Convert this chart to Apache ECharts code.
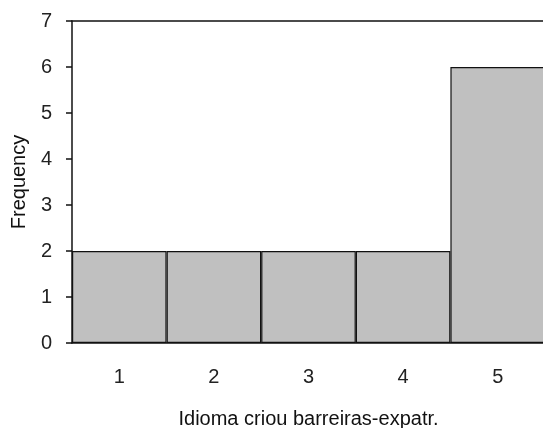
<!DOCTYPE html>
<html>
<head>
<meta charset="utf-8">
<script src="https://cdn.jsdelivr.net/npm/echarts@6/dist/echarts.min.js"></script>
<style>
  html, body { margin: 0; padding: 0; background: #fff; }
  #main { width: 543px; height: 428px; }
</style>
</head>
<body>
<div id="main"></div>
<script>
// histogram bins and counts
var categories = ['1', '2', '3', '4', '5']
var frequency = [2, 2, 2, 2, 6]
var yTicks = [0, 1, 2, 3, 4, 5, 6, 7]

var chart = echarts.init(document.getElementById('main'))
var font = 'Liberation Sans, Arial, sans-serif'

var option = {
  animation: false,
  grid: {
    left: 72,
    top: 21,
    right: -2,
    bottom: 85,
    outerBoundsMode: 'none',
  },
  xAxis: [
    {
      type: 'category',
      data: categories,
      name: 'Idioma criou barreiras-expatr.',
      nameLocation: 'middle',
      nameGap: 66,
      nameTextStyle: { color: '#111', fontSize: 20, fontFamily: font },
      axisLine: { lineStyle: { color: '#111', width: 1.5 } },
      axisTick: { alignWithLabel: true, length: 4, lineStyle: { color: '#111', width: 1.5 } },
      axisLabel: { color: '#222', fontSize: 20, fontFamily: font, margin: 24 },
    },
    {
      // top frame line
      type: 'category',
      data: categories,
      position: 'top',
      axisLine: { lineStyle: { color: '#111', width: 1.5 } },
      axisTick: { show: false },
      axisLabel: { show: false },
    },
  ],
  yAxis: {
    type: 'value',
    min: yTicks[0],
    max: yTicks[yTicks.length - 1],
    interval: 1,
    name: 'Frequency',
    nameLocation: 'middle',
    nameGap: 37,
    nameTextStyle: { color: '#111', fontSize: 20, fontFamily: font },
    axisLine: { show: true, lineStyle: { color: '#111', width: 1.5 } },
    axisTick: { show: true, length: 6, lineStyle: { color: '#111', width: 1.5 } },
    axisLabel: { color: '#222', fontSize: 20, fontFamily: font, margin: 20 },
    splitLine: { show: false },
  },
  series: [
    {
      type: 'bar',
      data: frequency,
      barCategoryGap: '0%',
      itemStyle: {
        color: '#c0c0c0',
        borderColor: '#111',
        borderWidth: 1.2,
      },
    },
  ],
}
option && chart.setOption(option)
</script>
</body>
</html>
